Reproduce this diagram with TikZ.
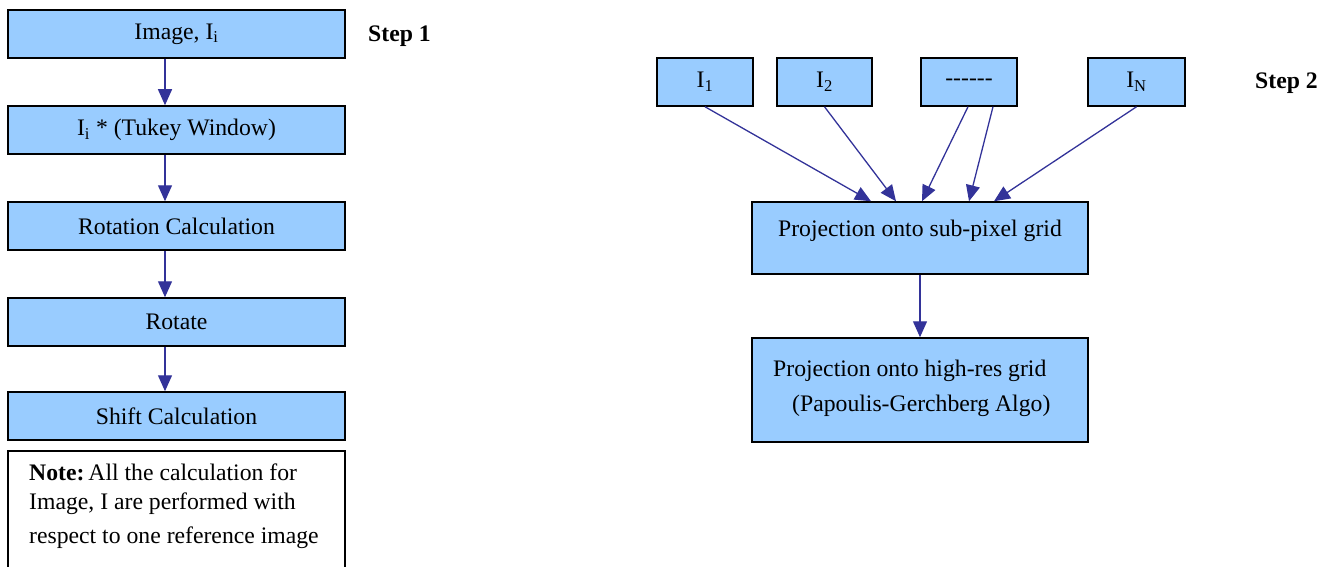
\documentclass[tikz,border=0pt]{standalone}
\usepackage{fontspec}
\setmainfont{Liberation Serif}
\usetikzlibrary{arrows.meta}
\definecolor{boxfill}{HTML}{99CCFF}
\definecolor{arrowblue}{HTML}{333399}
\begin{document}
\begin{tikzpicture}[x=1pt,y=-1pt,
  every node/.style={font=\fontsize{23.7}{29}\selectfont},
  stepbox/.style={draw=black, line width=1.5pt, fill=boxfill, rectangle, inner sep=0pt},
  flow/.style={draw=arrowblue, line width=1.3pt, -{Triangle[length=16pt,width=14pt]}},
  steplabel/.style={font=\fontsize{23.7}{29}\selectfont\bfseries}
]
\useasboundingbox (0,0) rectangle (1338,567);
% Step 1 column
\node[stepbox, minimum width=337pt, minimum height=48pt] (img) at (176.5,34) {\raisebox{-2pt}{Image, I\textsubscript{i}}};
\node[stepbox, minimum width=337pt, minimum height=48pt] (tuk) at (176.5,130) {\raisebox{-2pt}{I\textsubscript{i} * (Tukey Window)}};
\node[stepbox, minimum width=337pt, minimum height=48pt] (rotc) at (176.5,226) {Rotation Calculation};
\node[stepbox, minimum width=337pt, minimum height=48pt] (rot) at (176.5,322) {Rotate};
\node[stepbox, minimum width=337pt, minimum height=48pt] (shift) at (176.5,416) {Shift Calculation};
\draw[line width=1.5pt] (8,590) -- (8,451) -- (345,451) -- (345,590);
\node[anchor=north west, inner sep=0pt, align=left] (note) at (29,464)
  {\textbf{Note:}\,All the calculation for\\Image, I are performed with\\[5pt]respect to one reference image};
\node[steplabel] (s1) at (399.5,36) {Step 1};

\foreach \a/\b in {img/tuk, tuk/rotc, rotc/rot, rot/shift}
  \draw[flow] ([xshift=-11.5pt]\a.south) -- ([xshift=-11.5pt]\b.north);

% Step 2
\node[stepbox, minimum width=96pt, minimum height=48pt] (i1) at (705,82) {\raisebox{-2pt}{I\textsubscript{1}}};
\node[stepbox, minimum width=95pt, minimum height=48pt] (i2) at (824.5,82) {\raisebox{-2pt}{I\textsubscript{2}}};
\node[stepbox, minimum width=96pt, minimum height=48pt] (dots) at (969,82) {-{}-{}-{}-{}-{}-};
\node[stepbox, minimum width=97pt, minimum height=48pt] (iN) at (1136.5,82) {\raisebox{-2pt}{I\textsubscript{N}}};
\node[steplabel] (s2) at (1286.5,83) {Step 2};

\node[stepbox, minimum width=336pt, minimum height=72pt] (sub) at (920,238) {};
\node (subtext) at (920,231) {Projection onto sub-pixel grid};
\node[stepbox, minimum width=336pt, minimum height=104pt] (high) at (920,390) {};
\node[anchor=north west, inner sep=0pt, align=left] (hightext) at (773,360)
  {Projection onto high-res grid\\[6pt]\hspace{19pt}(Papoulis-Gerchberg Algo)};

\draw[flow] (i1.south) -- ([xshift=-49pt]sub.north);
\draw[flow] (i2.south) -- ([xshift=-24pt]sub.north);
\draw[flow] ([xshift=-1pt]dots.south) -- ([xshift=2pt]sub.north);
\draw[flow] ([xshift=24pt]dots.south) -- ([xshift=49pt]sub.north);
\draw[flow] (iN.south) -- ([xshift=74pt]sub.north);
\draw[flow] (sub.south) -- (high.north);
\end{tikzpicture}
\end{document}
